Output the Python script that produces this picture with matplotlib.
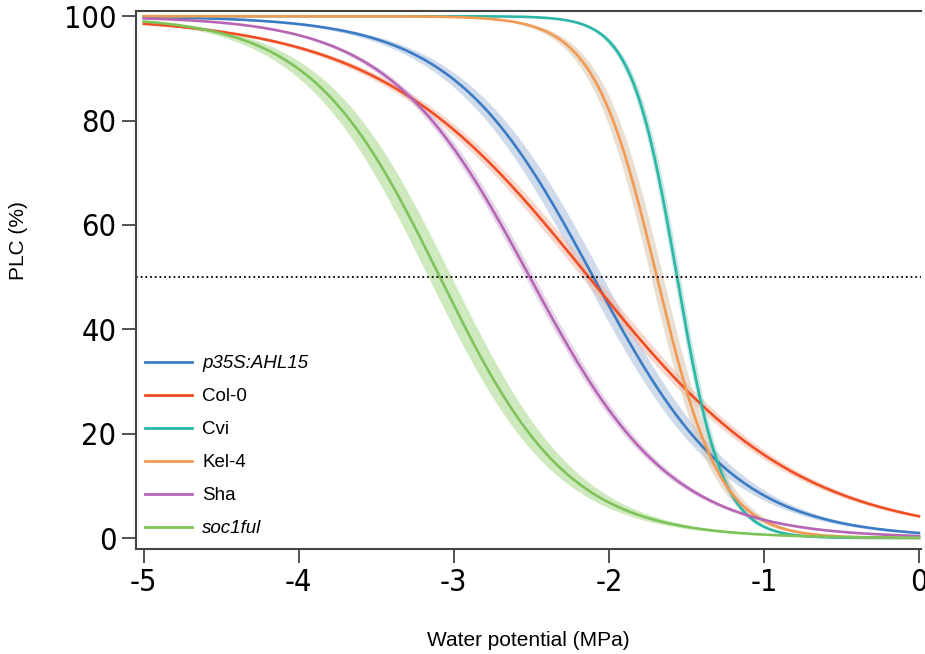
import numpy as np
import matplotlib.pyplot as plt

# Vulnerability curves, PLC = 100 / (1 + exp(a * (psi - P50)))
genotypes = ["p35S:AHL15", "Col-0", "Cvi", "Kel-4", "Sha", "soc1ful"]
italic = [True, False, False, False, False, True]
p50 = [-2.10, -2.13, -1.56, -1.69, -2.51, -3.09]      # MPa
slope = [2.2, 1.47, 6.8, 4.9, 2.2, 2.4]                # 1/MPa
band = [0.06, 0.045, 0.02, 0.04, 0.03, 0.075]          # +/- MPa shift of the CI band
colors = ["#3b7cc4", "#f04f24", "#2bb7a8", "#f39a52", "#b766b6", "#7dc35a"]
band_colors = ["#a9bfdc", "#f2b8a6", "#9fd6cc", "#d8c4ae", "#d4b8d8", "#a8d88c"]

xticks = [-5, -4, -3, -2, -1, 0]
yticks = [0, 20, 40, 60, 80, 100]

plt.rcParams["font.family"] = ["Liberation Sans", "DejaVu Sans"]


def plc(psi, p, a):
    return 100.0 / (1.0 + np.exp(a * (psi - p)))


fig = plt.figure(figsize=(9.25, 6.54), dpi=100)
ax = fig.add_axes([136 / 925, 1 - 549 / 654, 785 / 925, 538 / 654])

psi = np.linspace(-5.0, 0.0, 600)
for g, p, a, b, c, bc in zip(genotypes, p50, slope, band, colors, band_colors):
    ax.fill_between(psi, plc(psi, p - b, a), plc(psi, p + b, a), color=bc, alpha=0.55, lw=0)
for g, p, a, c in zip(genotypes, p50, slope, colors):
    ax.plot(psi, plc(psi, p, a), color=c, lw=1.9, label=g)

ax.axhline(50, color="black", ls=(0, (1, 1.6)), lw=1.3)

ax.set_xlim(-5.05, 0.013)
ax.set_ylim(-2.1, 101.0)
tick_kw = dict(fontsize=22, family="DejaVu Sans", fontstretch="condensed")
ax.set_xticks(xticks)
ax.set_xticklabels([str(t) for t in xticks], **tick_kw)
ax.set_yticks(yticks)
ax.set_yticklabels([str(t) for t in yticks], **tick_kw)
ax.tick_params(axis="both", direction="out", length=10, width=1.2, color="#333333")
ax.tick_params(axis="x", pad=4)
ax.tick_params(axis="y", pad=4)

for side in ["left", "bottom", "top"]:
    ax.spines[side].set_color("#444444")
    ax.spines[side].set_linewidth(1.5)
ax.spines["right"].set_visible(False)

ax.set_xlabel("Water potential (MPa)", fontsize=15, labelpad=24)
ax.set_ylabel("PLC (%)", fontsize=15)
ax.yaxis.set_label_coords(-0.137, 0.574)

leg = ax.legend(loc="upper left", bbox_to_anchor=(0.0115, 0.3606), frameon=False,
                fontsize=13.5, handlelength=2.5, handletextpad=0.55, labelspacing=0.85,
                borderpad=0, borderaxespad=0)
for txt, it in zip(leg.get_texts(), italic):
    if it:
        txt.set_fontstyle("italic")
for line in leg.get_lines():
    line.set_linewidth(2.0)

fig.savefig("out.png", dpi=100)
